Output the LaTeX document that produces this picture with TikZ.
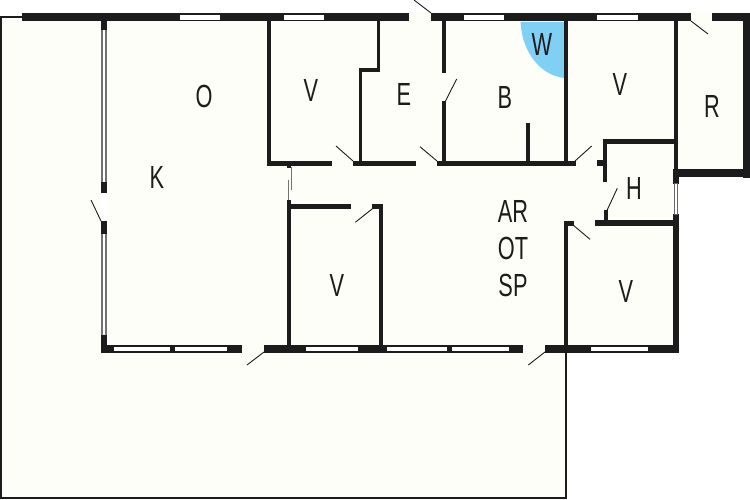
\documentclass[tikz,border=0pt]{standalone}
\usepackage{fontspec}
\setmainfont[FakeStretch=0.68]{Liberation Sans}
\definecolor{plancream}{HTML}{FEFEF8}
\definecolor{planwall}{HTML}{1C1C1C}
\definecolor{planblue}{HTML}{80D0F5}
\tikzset{
  wall/.style={fill=planwall,draw=planwall,line width=.6pt},
  pane/.style={fill=white},
  gap/.style={fill=plancream},
  leaf/.style={draw=planwall,line width=.9pt},
  slide/.style={draw=black!55,line width=.9pt},
  room/.style={font=\fontsize{32}{32}\selectfont,text=planwall,inner sep=0pt},
}
\begin{document}
\begin{tikzpicture}[x=1pt,y=-1pt]
\useasboundingbox (0,0) rectangle (750,500);
% ground
\fill[plancream] (1,17) rectangle (566,498);
\fill[plancream] (566,17) rectangle (678,350);
\fill[plancream] (678,17) rectangle (745,175);
\draw[planwall,line width=1.8pt] (22,17) -- (1,17) -- (1,498) -- (566,498) -- (566,350);
% shower
\fill[planblue] (520.5,22) .. controls (522,52) and (540,75) .. (564,78) -- (564,22) -- cycle;
% outer walls
\foreach \xa/\ya/\xb/\yb in {22/13.3/750/20.8, 743.3/13.3/750/177, 673/169.3/750/176.8, 673/169.3/678/183, 673/214/678/352.3, 101/345/678/352.3}
  \fill[wall] (\xa,\ya) rectangle (\xb,\yb);
% inner walls
\foreach \xa/\ya/\xb/\yb in {
  267.5/21/270/165, 267.5/161/331/165.3, 353/161/415/165.3, 437/161/575/165.3,
  359/68/361.7/163, 359/68/379.5/71, 377/21/379.5/71,
  442.7/21/445.7/72, 442.7/101/445.7/163, 526/123/529/163, 564.5/21/567.3/163,
  674.5/21/677/172, 603.3/139.5/675/143, 603.3/139.5/606.7/181.7, 597/160.7/605/165.3,
  604/210/607/222, 595/220.7/673/225.3,
  287.7/200/290/345, 288/204/350.7/208, 379.3/204/382/345, 372/204/382/208,
  564.5/221/567.3/345, 564.5/221/573/225,
  287/165/290/167}
  \fill[wall] (\xa,\ya) rectangle (\xb,\yb);
% glazed west wall
\fill[white] (101,21) rectangle (106.5,345);
\foreach \xa in {100.7,105}
  \fill[black!55] (\xa,21) rectangle ++(1.8,324);
\foreach \ya/\yb in {21/29, 182/193, 221.7/233, 335/352}
  \fill[wall] (100.9,\ya) rectangle (106.6,\yb);
\fill[white] (101,193.4) rectangle (106.8,221.3);
% windows
\foreach \xa/\xb in {180/220, 284/324, 464/504, 597/638}
  \fill[pane] (\xa,14.8) rectangle (\xb,20);
\foreach \xa/\xb in {114/170, 175/227, 306/358, 387/447, 452/509, 591/648}
  \fill[pane] (\xa,346.8) rectangle (\xb,350.8);
\draw[pane,draw=black!60,line width=.8pt] (674,183) rectangle (677.4,214);
% door openings
\foreach \xa/\xb in {409/431, 691/712}
  \fill[gap] (\xa,12.5) rectangle (\xb,21.5);
\foreach \xa/\xb in {242/264, 523.3/545}
  \fill[gap] (\xa,344.5) rectangle (\xb,353);
% door leaves
\foreach \xa/\ya/\xb/\yb in {
  101/221/91/200, 431/13/414/0, 691/21/708/34, 445.5/101/456.7/79,
  353/161/336/146, 437/161/420/146.7, 575/161/591.7/146, 606.7/211/617.3/188.3,
  373.3/208/355.3/222.3, 573/225/590/239.3, 264/352/247/365, 545/352/528.3/365}
  \draw[leaf] (\xa,\ya) -- (\xb,\yb);
% sliding door
\draw[slide] (291.3,167) -- (291.3,190);
\draw[slide] (288.4,180) -- (288.4,200);
% rooms
\node[room] (roomO) at (204,96) {O};
\node[room] (roomKa) at (311,90) {V};
\node[room] (roomE) at (404,94) {E};
\node[room] (roomB) at (505,97) {B};
\node[room] (roomW) at (542,44) {W};
\node[room] (roomKb) at (620,84) {V};
\node[room] (roomR) at (712,106) {R};
\node[room] (roomK) at (157,177) {K};
\node[room] (roomH) at (634,188) {H};
\node[room] (roomAR) at (513,211) {AR};
\node[room] (roomOT) at (513,248) {OT};
\node[room] (roomSP) at (513,285) {SP};
\node[room] (roomKc) at (337,285) {V};
\node[room] (roomKd) at (626,291) {V};
\end{tikzpicture}
\end{document}
